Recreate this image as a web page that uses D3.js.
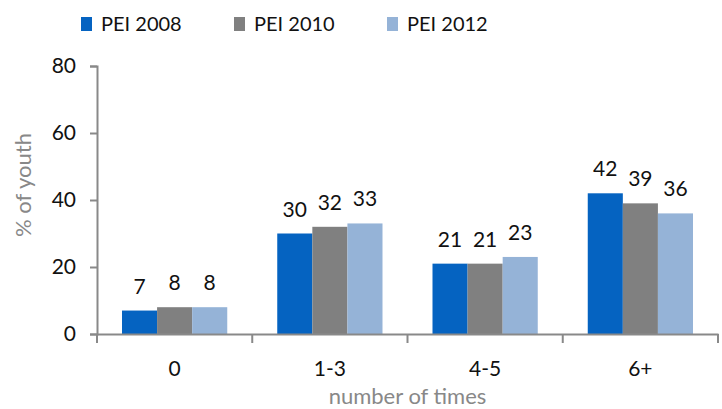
<!DOCTYPE html>
<html>
<head>
<meta charset="utf-8">
<script src="https://cdn.jsdelivr.net/npm/d3@7"></script>
<style>
  body { margin: 0; background: #fff; }
  svg text { font-family: "Lato", "DejaVu Sans", sans-serif; }
</style>
</head>
<body>
<div id="container"></div>
<script>
var categories = ["0", "1-3", "4-5", "6+"];
var seriesNames = ["PEI 2008", "PEI 2010", "PEI 2012"];
var pei2008 = [7, 30, 21, 42];
var pei2010 = [8, 32, 21, 39];
var pei2012 = [8, 33, 23, 36];
var yTicks = [0, 20, 40, 60, 80];
var colors = ["#0563C1", "#808080", "#95B3D7"];

var series = [pei2008, pei2010, pei2012];
var width = 722, height = 409;
var margin = {top: 66, right: 4, bottom: 75, left: 97};

var svg = d3.select("div#container").append("svg")
    .attr("width", width).attr("height", height);

var x = d3.scaleBand().domain(categories)
    .range([margin.left, width - margin.right]);
// group is about 105px of a 155px band
var xInner = d3.scaleBand().domain(d3.range(series.length))
    .range([25, x.bandwidth() - 25]);
var y = d3.scaleLinear().domain([0, 80]).range([height - margin.bottom, margin.top]);

// bars
series.forEach(function(vals, si) {
    svg.selectAll(".bar" + si)
        .data(vals)
        .enter()
        .append("rect")
        .attr("x", function(d, i) { return x(categories[i]) + xInner(si); })
        .attr("y", function(d) { return y(d); })
        .attr("width", xInner.bandwidth())
        .attr("height", function(d) { return y(0) - y(d); })
        .style("fill", colors[si]);

    svg.selectAll(".lab" + si)
        .data(vals)
        .enter()
        .append("text")
        .attr("x", function(d, i) { return x(categories[i]) + xInner(si) + xInner.bandwidth() / 2; })
        .attr("y", function(d) { return y(d) - 17; })
        .attr("text-anchor", "middle")
        .style("font-size", "21px")
        .style("fill", "#111")
        .text(function(d) { return d; });
});

// y axis
var yAxis = svg.append("g")
    .attr("transform", "translate(" + margin.left + ",0)")
    .call(d3.axisLeft(y).tickValues(yTicks).tickSize(7).tickPadding(14));
yAxis.selectAll("text").style("font-size", "21px").style("fill", "#111");

// x axis
var xAxis = svg.append("g")
    .attr("transform", "translate(0," + y(0) + ")")
    .call(d3.axisBottom(x).tickSize(0).tickPadding(27));
xAxis.selectAll("text").style("font-size", "21px").style("fill", "#111");
xAxis.selectAll(".xsep")
    .data(categories.concat(["end"]))
    .enter()
    .append("line")
    .attr("x1", function(d, i) { return margin.left + i * x.step(); })
    .attr("x2", function(d, i) { return margin.left + i * x.step(); })
    .attr("y1", 0).attr("y2", 9)
    .attr("stroke", "#898989").attr("stroke-width", 2);

svg.selectAll(".domain, .tick line").attr("stroke", "#898989").attr("stroke-width", 2);

// axis titles
svg.append("text")
    .attr("transform", "translate(31,185) rotate(-90)")
    .attr("text-anchor", "middle")
    .style("font-size", "22px")
    .style("fill", "#888")
    .text("% of youth");

svg.append("text")
    .attr("x", (margin.left + width - margin.right) / 2)
    .attr("y", 404)
    .attr("text-anchor", "middle")
    .style("font-size", "22px")
    .style("fill", "#888")
    .text("number of times");

// legend
var legend = svg.selectAll(".legend")
    .data(seriesNames)
    .enter()
    .append("g")
    .attr("transform", function(d, i) { return "translate(" + (81 + i * 153) + ",17)"; });
legend.append("rect")
    .attr("width", 11).attr("height", 14)
    .style("fill", function(d, i) { return colors[i]; });
legend.append("text")
    .attr("x", 20).attr("y", 14)
    .style("font-size", "20px")
    .style("fill", "#111")
    .text(function(d) { return d; });
</script>
</body>
</html>
